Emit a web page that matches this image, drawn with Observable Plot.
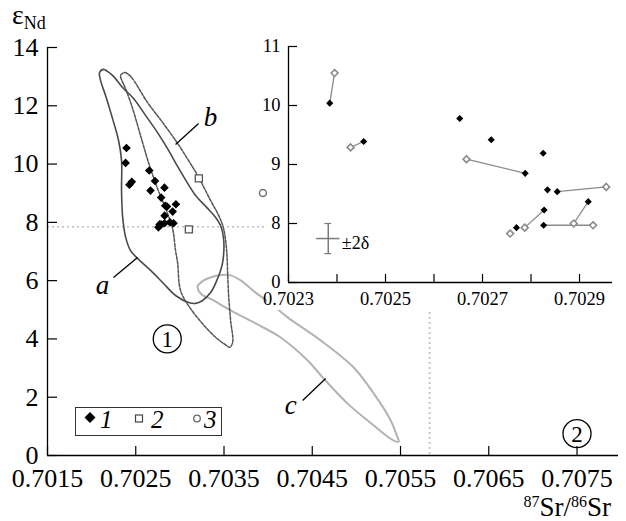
<!DOCTYPE html>
<html><head><meta charset="utf-8">
<script src="https://cdn.jsdelivr.net/npm/d3@7"></script>
<script src="https://cdn.jsdelivr.net/npm/@observablehq/plot@0.6"></script>
<style>
body{margin:0;background:#fff;}
#wrap{position:relative;width:626px;height:521px;overflow:hidden;font-family:"Liberation Serif",serif;color:#000;}
</style></head><body><div id="wrap"></div>
<script>
// ---- sample data (87Sr/86Sr, eps Nd) ----
const srFilled = [0.702385,0.702455,0.702653,0.702718,0.702825,0.702788,0.702834,0.702854,0.702918,0.702827,0.702770,0.702826];
const ndFilled = [10.04,9.39,9.78,9.42,9.19,8.85,8.57,8.54,8.37,8.23,7.93,7.97];
const srOpen = [0.702395,0.702428,0.702667,0.702955,0.702888,0.702928,0.702787,0.702757];
const ndOpen = [10.55,9.29,9.09,8.62,8.00,7.97,7.93,7.83];
const pairFilled = [0,1,5,7,8,11,9];
const pairOpen   = [0,1,2,3,4,5,6];
const sr2 = [0.703215,0.703102];
const nd2 = [9.51,7.76];
const sr3 = [0.703941];
const nd3 = [9.01];
// ---- fields ----
const aSr = [0.702090,0.702135,0.702180,0.702248,0.702350,0.702475,0.702611,0.702747,0.702872,0.702974,0.703076,0.703178,0.703314,0.703405,0.703461,0.703495,0.703484,0.703427,0.703348,0.703257,0.703178,0.703099,0.702951,0.702815,0.702668,0.702532,0.702441,0.702384,0.702350,0.702339,0.702339,0.702305,0.702237,0.702158,0.702101];
const aNd = [13.14,13.25,13.18,13.01,12.63,12.25,11.67,11.08,10.47,9.92,9.40,8.92,8.48,8.17,7.89,7.45,6.62,6.07,5.59,5.32,5.22,5.25,5.49,5.90,6.35,6.73,7.03,7.51,8.24,9.09,10.12,10.81,11.56,12.35,12.87];
const bSr = [0.702328,0.702373,0.702441,0.702634,0.702804,0.702974,0.703099,0.703201,0.703348,0.703439,0.703495,0.703530,0.703541,0.703552,0.703575,0.703598,0.703564,0.703530,0.703382,0.703121,0.703008,0.702974,0.702951,0.702917,0.702838,0.702747,0.702645,0.702554,0.702464,0.702384,0.702339];
const bNd = [13.04,13.14,13.01,12.11,11.43,10.71,10.12,9.61,8.75,8.24,7.79,7.03,6.28,5.49,4.63,3.88,3.71,3.77,4.12,5.04,5.66,6.62,7.03,7.79,8.48,9.16,10.05,10.98,11.91,12.59,12.90];
const cSr = [0.703201,0.703269,0.703348,0.703427,0.703575,0.703688,0.703858,0.704028,0.704221,0.704595,0.704969,0.705196,0.705389,0.705457,0.705480,0.705423,0.705128,0.704901,0.704629,0.704448,0.704142,0.703858,0.703575,0.703382,0.703235];
const cNd = [5.80,6.01,6.11,6.18,6.18,6.01,5.59,5.22,4.74,3.95,3.02,2.13,1.20,0.69,0.48,0.51,1.20,1.78,2.64,3.26,4.05,4.53,4.98,5.32,5.56];
const fieldNames = ["a","b","c"];
const fieldLabelSr = [0.702124,0.703348,0.704255];
const fieldLabelNd = [5.83,11.60,1.72];
const leaderSr1 = [0.702248,0.703212,0.704391];
const leaderNd1 = [6.11,11.39,1.89];
const leaderSr2 = [0.702520,0.702951,0.704652];
const leaderNd2 = [6.79,10.67,2.64];
const regionNames = ["1","2"];
const regionSr = [0.702857,0.7075];
const regionNd = [4.00,0.75];
const refNd = 7.85;
const refSr = 0.70583;
// ---- error cross (±2δ) ----
const errSr = [0.702382], errNd = [7.745], errDSr = 0.000024, errDNd = 0.255, errCap = 0.000007;
const errLabel = ["±2δ"], errLabelSr = [0.702410], errLabelNd = [7.66];
// ---- ticks ----
const xTicksMain = [0.7015,0.7025,0.7035,0.7045,0.7055,0.7065,0.7075];
const yTicksMain = [0,2,4,6,8,10,12,14];
const xTicksInset = [0.7023,0.7024,0.7025,0.7026,0.7027,0.7028,0.7029];
const xLabelsInset = [0.7023,0.7025,0.7027,0.7029];
const yTicksInset = [7,8,9,10,11];
const yLabelsInset = ["0","8","9","10","11"];

const fmt4 = d3.format(".4f");
const idx = a => a.map((_, i) => i);
const wrap = document.getElementById("wrap");

// ---------------- main chart ----------------
const W = 626, H = 521, mL = 47, mR = 8, mT = 47, mB = 66;
const fw = W - mL - mR, fh = H - mT - mB;
const allSr1 = srFilled.concat(srOpen), allNd1 = ndFilled.concat(ndOpen);

const main = Plot.plot({
  width: W, height: H, marginLeft: mL, marginRight: mR, marginTop: mT, marginBottom: mB,
  x: {domain: [0.7015, 0.70797]},
  y: {domain: [0, 14]},
  style: {fontFamily: "Liberation Serif", fontSize: "26px", background: "white", overflow: "visible", color: "black"},
  marks: [
    Plot.ruleY([refNd], {stroke: "#bdbdbd", strokeWidth: 1.6, strokeDasharray: "2,3"}),
    Plot.ruleX([refSr], {stroke: "#c8c8c8", strokeWidth: 2, strokeDasharray: "2,3"}),
    Plot.line(idx(cSr), {x: i => cSr[i], y: i => cNd[i], curve: "catmull-rom-closed", stroke: "#b3b3b3", strokeWidth: 2}),
    Plot.line(idx(bSr), {x: i => bSr[i], y: i => bNd[i], curve: "catmull-rom-closed", stroke: "#555", strokeWidth: 1.5, strokeDasharray: "3,1.5"}),
    Plot.line(idx(aSr), {x: i => aSr[i], y: i => aNd[i], curve: "catmull-rom-closed", stroke: "#4a4a4a", strokeWidth: 1.6}),
    Plot.link(fieldNames, {x1: (d,i) => leaderSr1[i], y1: (d,i) => leaderNd1[i], x2: (d,i) => leaderSr2[i], y2: (d,i) => leaderNd2[i], stroke: "black", strokeWidth: 1.3}),
    Plot.text(fieldNames, {x: (d,i) => fieldLabelSr[i], y: (d,i) => fieldLabelNd[i], text: d => d, fontSize: 27, fontStyle: "italic"}),
    Plot.dot(regionNames, {x: (d,i) => regionSr[i], y: (d,i) => regionNd[i], r: 14, stroke: "black", strokeWidth: 1.3, fill: "none"}),
    Plot.text(regionNames, {x: (d,i) => regionSr[i], y: (d,i) => regionNd[i], text: d => d, fontSize: 23, dy: 1}),
    Plot.dot(idx(allSr1), {x: i => allSr1[i], y: i => allNd1[i], symbol: "diamond2", r: 3.9, fill: "black"}),
    Plot.dot(idx(sr2), {x: i => sr2[i], y: i => nd2[i], symbol: "square", r: 4, fill: "white", stroke: "#555", strokeWidth: 1.3}),
    Plot.dot(idx(sr3), {x: i => sr3[i], y: i => nd3[i], r: 3.5, fill: "white", stroke: "#777", strokeWidth: 1.5}),
    Plot.ruleX([0.7015], {stroke: "black", strokeWidth: 1.3}),
    Plot.ruleY([0], {stroke: "black", strokeWidth: 1.3}),
    Plot.tickX(xTicksMain, {x: d => d, insetTop: fh - 9, stroke: "black", strokeWidth: 1.2}),
    Plot.tickY(yTicksMain, {y: d => d, insetRight: fw - 10, stroke: "black", strokeWidth: 1.2}),
    Plot.axisX({ticks: xTicksMain, tickSize: 0, tickPadding: 13, tickFormat: fmt4, label: null}),
    Plot.axisY({ticks: yTicksMain, tickSize: 0, tickPadding: 9, label: null})
  ]
});
main.style.position = "absolute"; main.style.left = "0px"; main.style.top = "0px";
wrap.appendChild(main);

// ---------------- inset ----------------
const IL = 267, IT = 30, IW = W - IL, IH = 280, imL = 21, imR = 14, imT = 16, imB = 28;
const ifw = IW - imL - imR, ifh = IH - imT - imB;
const inset = Plot.plot({
  width: IW, height: IH, marginLeft: imL, marginRight: imR, marginTop: imT, marginBottom: imB,
  x: {domain: [0.7023, 0.702968]},
  y: {domain: [7, 11]},
  style: {fontFamily: "Liberation Serif", fontSize: "18.5px", background: "white", overflow: "visible", color: "black"},
  marks: [
    Plot.link(pairFilled, {x1: d => srFilled[d], y1: d => ndFilled[d], x2: (d,i) => srOpen[pairOpen[i]], y2: (d,i) => ndOpen[pairOpen[i]], stroke: "#8a8a8a", strokeWidth: 1.3}),
    Plot.ruleY(errSr, {y: (d,i) => errNd[i], x1: d => d - errDSr, x2: d => d + errDSr, stroke: "#7a7a7a", strokeWidth: 1.5}),
    Plot.ruleX(errSr, {x: d => d, y1: (d,i) => errNd[i] - errDNd, y2: (d,i) => errNd[i] + errDNd, stroke: "#7a7a7a", strokeWidth: 1.5}),
    Plot.ruleY(errSr, {y: (d,i) => errNd[i] + errDNd, x1: d => d - errCap, x2: d => d + errCap, stroke: "#7a7a7a", strokeWidth: 1.2}),
    Plot.ruleY(errSr, {y: (d,i) => errNd[i] - errDNd, x1: d => d - errCap, x2: d => d + errCap, stroke: "#7a7a7a", strokeWidth: 1.2}),
    Plot.text(errLabel, {x: (d,i) => errLabelSr[i], y: (d,i) => errLabelNd[i], text: d => d, textAnchor: "start", fontSize: 18}),
    Plot.dot(idx(srOpen), {x: i => srOpen[i], y: i => ndOpen[i], symbol: "diamond2", r: 3.1, fill: "white", stroke: "#8a8a8a", strokeWidth: 1.6}),
    Plot.dot(idx(srFilled), {x: i => srFilled[i], y: i => ndFilled[i], symbol: "diamond2", r: 3.2, fill: "black"}),
    Plot.ruleX([0.7023], {stroke: "black", strokeWidth: 1.3}),
    Plot.ruleY([7], {stroke: "black", strokeWidth: 1.3}),
    Plot.tickX(xTicksInset, {x: d => d, insetTop: ifh - 8, stroke: "black", strokeWidth: 1.2}),
    Plot.tickY(yTicksInset, {y: d => d, insetRight: ifw - 9, stroke: "black", strokeWidth: 1.2}),
    Plot.axisX({ticks: xLabelsInset, tickSize: 0, tickPadding: 9, tickFormat: fmt4, label: null}),
    Plot.axisY({ticks: yTicksInset, tickSize: 0, tickPadding: 8, tickFormat: d => yLabelsInset[yTicksInset.indexOf(d)], label: null})
  ]
});
inset.style.position = "absolute"; inset.style.left = IL + "px"; inset.style.top = IT + "px";
wrap.appendChild(inset);

// ---------------- legend ----------------
const legend = document.createElement("div");
legend.style.cssText = "position:absolute;left:75px;top:407px;width:147px;height:29px;border:1px solid #333;background:#fff;box-sizing:border-box;";
legend.innerHTML = `<svg width="147" height="29" style="position:absolute;left:-1px;top:-1px;overflow:visible">
<path d="M15,5L20.5,10.5L15,16L9.5,10.5Z" fill="black"/>
<text x="25" y="21" font-family="Liberation Serif" font-style="italic" font-size="25">1</text>
<rect x="60.5" y="8" width="7" height="7" fill="white" stroke="#444" stroke-width="1.2"/>
<text x="76" y="21" font-family="Liberation Serif" font-style="italic" font-size="25">2</text>
<circle cx="122" cy="11.5" r="3.3" fill="white" stroke="#666" stroke-width="1.3"/>
<text x="129" y="21" font-family="Liberation Serif" font-style="italic" font-size="25">3</text>
</svg>`;
wrap.appendChild(legend);

// ---------------- axis titles ----------------
const yt = document.createElement("div");
yt.style.cssText = "position:absolute;left:12px;top:1px;font-size:28px;line-height:1;white-space:nowrap;";
yt.innerHTML = `ε<span style="font-size:18px;position:relative;top:5px">Nd</span>`;
wrap.appendChild(yt);
const xt = document.createElement("div");
xt.style.cssText = "position:absolute;right:15px;top:494px;font-size:27px;line-height:1;white-space:nowrap;";
xt.innerHTML = `<span style="font-size:16px;position:relative;top:-9px">87</span>Sr/<span style="font-size:16px;position:relative;top:-9px">86</span>Sr`;
wrap.appendChild(xt);
</script></body></html>
